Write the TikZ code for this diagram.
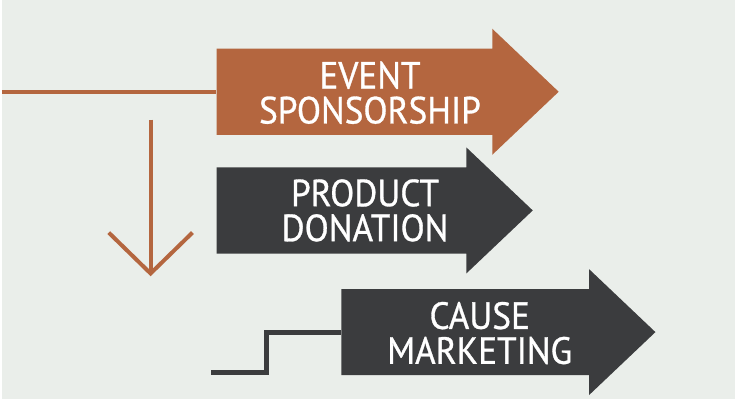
\documentclass[tikz,border=0pt]{standalone}
\usepackage{fontspec}
\setmainfont{PT Sans}
\newfontfamily\capfont{PT Sans}[FakeStretch=0.93, FakeBold=0.8]
\usetikzlibrary{shapes.arrows,arrows.meta}
\definecolor{rust}{HTML}{B4663F}
\definecolor{slate}{HTML}{3B3C3E}
\definecolor{paper}{HTML}{EAEEEA}
\tikzset{
	bigarrow/.style={
			single arrow, draw=none, fill=#1, anchor=tail,
			inner xsep=0pt, inner ysep=43pt,
			minimum width=126pt, single arrow head extend=20pt,
			single arrow tip angle=87
		},
	caption/.style={text=white, align=center, font=\capfont\fontsize{38}{35}\selectfont},
	link/.style={draw=#1, line width=4pt}
}

\begin{document}
\begin{tikzpicture}[x=1pt, y=-1pt]
        % Background
        \fill[paper] (0,0) rectangle (735,400);

        % Incoming line and steps
        \coordinate (feed) at (0,92);
        \coordinate (droptop) at (149,120);
        \coordinate (dropend) at (149,277);
        \coordinate (stepfoot) at (210,374);

        % Arrows
        \node[bigarrow=rust, minimum height=343pt] (event) at (215,92) {};
        \node[bigarrow=slate, minimum height=317pt] (product) at (215,211) {};
        \node[bigarrow=slate, minimum height=315pt] (cause) at (340,333) {};

        % Labels
        \node[caption] (eventtxt) at (369,93) {EVENT\\SPONSORSHIP};
        \node[caption] (producttxt) at (364,211) {PRODUCT\\DONATION};
        \node[caption] (causetxt) at (479,334) {CAUSE\\MARKETING};

        % Connectors
        \draw[link=rust] (feed) -- (event.tail);
        \draw[link=rust, -{Straight Barb[length=41pt, width=84pt]}] (droptop) -- (dropend);
        \draw[link=slate, line width=5pt] (stepfoot) -- ++(55,0) |- (cause.tail);
\end{tikzpicture}
\end{document}
